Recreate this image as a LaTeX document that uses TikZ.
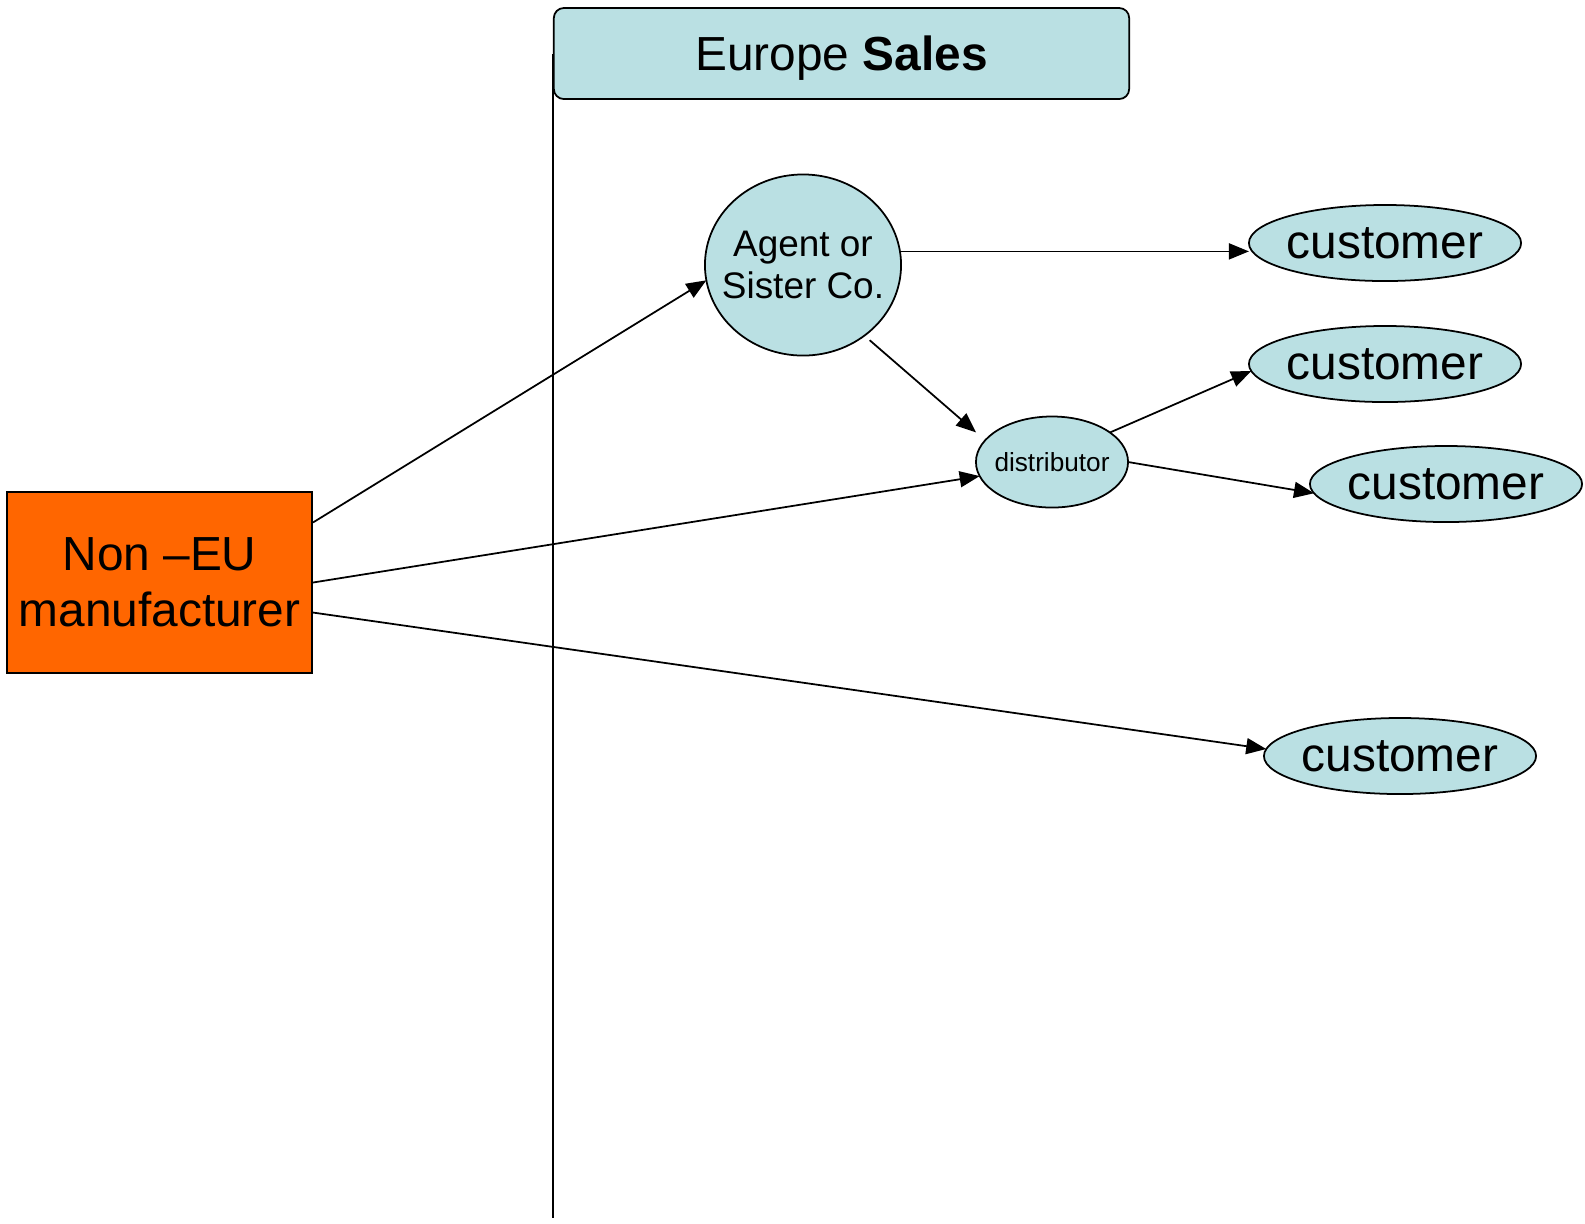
\documentclass[tikz,border=0pt]{standalone}
\usepackage{fontspec}
\setmainfont{Liberation Sans}
\usepackage{tikz}
\usetikzlibrary{shapes.geometric}
\usetikzlibrary{arrows.meta}

\definecolor{paleblue}{HTML}{BAE0E3}
\definecolor{mfrorange}{HTML}{FF6600}

\begin{document}
\begin{tikzpicture}[
        x=0.01cm, y=-0.01cm,
        blob/.style = {
            draw,
            ellipse,
            fill = paleblue,
            line width = 0.5pt,
            minimum width = #1,
            inner ysep = 0pt,
            outer sep = 0pt
        },
        blob/.default = 2.72cm,
        cust/.style = {blob, inner xsep=-0.03cm, minimum height = 0.76cm, font=\fontsize{13.6}{16}\selectfont},
        link/.style = {-{Triangle[length=0.2cm, width=0.16cm]}, line width = 0.5pt}
            ]
            \useasboundingbox (0,0) rectangle (1585,1223);

            \node[draw, line width = 0.5pt, rounded corners=0.1cm, fill=paleblue, minimum width=5.75cm, minimum height=0.91cm, text depth=0pt, font=\fontsize{13.6}{16}\selectfont] (header) at (841.5,53.5) {Europe \textbf{Sales}};
            \coordinate (divend) at (553,1218);
            \draw[line width = 0.5pt] (header.west) -- (header.west |- divend);

            \node[draw, line width = 0.5pt, fill=mfrorange, minimum width=3.03cm, minimum height=1.81cm, align=center, font=\fontsize{13.6}{15.9}\selectfont] (mfr) at (159.5,582.5) {Non –EU\\manufacturer};

            \node[blob=1.96cm, inner xsep=-0.13cm, minimum height=1.81cm, align=center, font=\fontsize{10.5}{12.1}\selectfont] (agent) at (803,265) {Agent or\\Sister Co.};
            \node[blob=1.52cm, inner xsep=-0.04cm, minimum height=0.91cm, font=\fontsize{7.45}{9}\selectfont] (dist) at (1052,462) {distributor};

            \node[cust] (cust1) at (1385,243) {customer};
            \node[cust] (cust2) at (1385,364) {customer};
            \node[cust] (cust3) at (1446,484) {customer};
            \node[cust] (cust4) at (1400,756) {customer};

            \draw[link] ([yshift=0.6cm]mfr.east) -- (agent.189);
            \draw[link] (mfr.east) -- (dist.191);
            \draw[link] ([yshift=-0.3cm]mfr.east) -- (cust4.177);

            \draw[link] (agent.8) -- (agent.8 -| cust1.west);
            \draw[link, shorten <=0.07cm, shorten >=0.12cm] (agent.-49) -- (dist.162);

            \draw[link] (dist.27) -- (cust2.183);
            \draw[link] (dist.east) -- (cust3.184);

        \end{tikzpicture}
\end{document}
